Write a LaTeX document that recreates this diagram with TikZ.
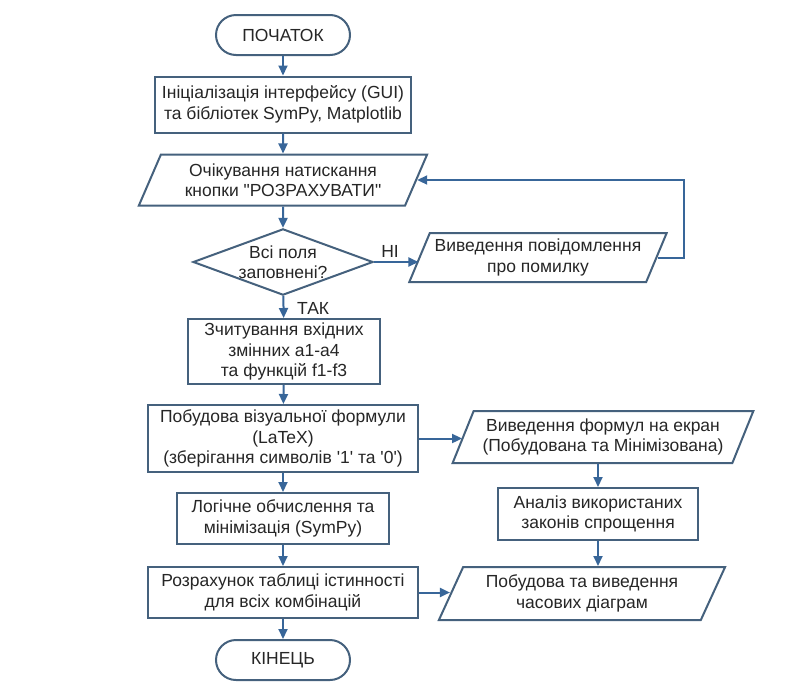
\documentclass[tikz,border=0pt]{standalone}
\usepackage{fontspec}
\setmainfont{Liberation Sans}[Ligatures=TeXOff]
\usetikzlibrary{shapes.geometric,arrows.meta}
\newlength{\du}
\setlength{\du}{1pt}
\definecolor{dialinecolor}{rgb}{0.270000, 0.380000, 0.490000}
\definecolor{diaarrowcolor}{rgb}{0.220000, 0.400000, 0.600000}
\definecolor{diatextcolor}{rgb}{0.150000, 0.150000, 0.150000}
\tikzset{
blok/.style={draw=dialinecolor, line width=2\du, fill=white, align=center, text=diatextcolor, font=\fontsize{17.5}{20.5}\selectfont, inner sep=0pt},
proc/.style={blok, rectangle},
term/.style={blok, rectangle, rounded corners=20\du, minimum width=134\du, minimum height=40\du},
io/.style={blok, trapezium, trapezium left angle=62, trapezium right angle=118, trapezium stretches=true},
rishennia/.style={blok, diamond, aspect=2.7, minimum width=180\du, minimum height=66\du},
arr/.style={draw=diaarrowcolor, line width=2\du, -{Triangle[length=10pt,width=9pt]}},
mitka/.style={text=diatextcolor, font=\fontsize{17.5}{20.5}\selectfont, inner sep=0pt}
}
\begin{document}
\begin{tikzpicture}
\pgftransformxscale{1.000000}
\pgftransformyscale{-1.000000}
\useasboundingbox (0\du,0\du) rectangle (803\du,686\du);
% left column
\node[term] (start) at (283\du,35\du) {ПОЧАТОК};
\node[proc, minimum width=256\du, minimum height=56\du] (init) at (283\du,104.5\du) {Ініціалізація інтерфейсу (GUI)\\та бібліотек SymPy, Matplotlib};
\node[io, minimum width=289\du, minimum height=51\du] (wait) at (283\du,180\du) {Очікування натискання\\кнопки "РОЗРАХУВАТИ"};
\node[rishennia] (dec) at (283\du,262\du) {Всі поля\\заповнені?};
\node[io, minimum width=258\du, minimum height=49\du] (err) at (538\du,257.5\du) {Виведення повідомлення\\про помилку};
\node[proc, minimum width=192\du, minimum height=65\du] (read) at (284\du,351.5\du) {Зчитування вхідних\\змінних a1-a4\\та функцій f1-f3};
\node[proc, minimum width=270\du, minimum height=67\du] (vis) at (283\du,438.5\du) {Побудова візуальної формули\\(LaTeX)\\(зберігання символів '1' та '0')};
\node[proc, minimum width=212\du, minimum height=51\du] (logic) at (283\du,518.5\du) {Логічне обчислення та\\мінімізація (SymPy)};
\node[proc, minimum width=270\du, minimum height=51\du] (table) at (283\du,592.5\du) {Розрахунок таблиці істинності\\для всіх комбінацій};
\node[term] (finish) at (283\du,660\du) {КІНЕЦЬ};
% right column
\node[io, minimum width=302\du, minimum height=52\du] (show) at (603\du,437\du) {Виведення формул на екран\\(Побудована та Мінімізована)};
\node[proc, minimum width=200\du, minimum height=52\du] (laws) at (598\du,514\du) {Аналіз використаних\\законів спрощення};
\node[io, minimum width=287\du, minimum height=53\du] (plot) at (582\du,593.5\du) {Побудова та виведення\\часових діаграм};
% labels
\node[mitka] (ni) at (390\du,251\du) {НІ};
\node[mitka, anchor=west] (tak) at (297\du,308\du) {ТАК};
% connectors
\draw[arr] (start) -- (init);
\draw[arr] (init) -- (wait);
\draw[arr] (wait) -- (dec);
\draw[arr] (dec.east) -- (err.west |- dec.east);
\draw[arr] (err.east) -- ++(26\du,0) |- (wait.east);
\draw[arr] (dec) -- (read);
\draw[arr] (read) -- (vis);
\draw[arr] (vis.east) -- (vis.east -| show.west);
\draw[arr] (vis) -- (logic);
\draw[arr] (logic) -- (table);
\draw[arr] (table) -- (finish);
\draw[arr] (table.east) -- (table.east -| plot.west);
\draw[arr] (show.south -| laws.north) -- (laws.north);
\draw[arr] (laws.south) -- (laws.south |- plot.north);
\end{tikzpicture}
\end{document}
